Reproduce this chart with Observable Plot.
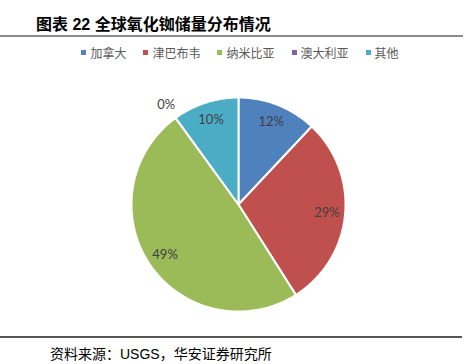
<!DOCTYPE html>
<html>
<head>
<meta charset="utf-8">
<script src="https://cdn.jsdelivr.net/npm/d3@7"></script>
<script src="https://cdn.jsdelivr.net/npm/@observablehq/plot@0.6"></script>
<style>
  body { margin: 0; background: #fff; }
  #wrap { position: relative; width: 467px; height: 364px; overflow: hidden; font-family: "Noto Sans CJK SC", sans-serif; }
  #chart { position: absolute; left: 0; top: 0; }
  .title { position: absolute; left: 36px; top: 11px; font-size: 16px; font-weight: bold; color: #000; white-space: nowrap; font-family: "Liberation Sans", "Noto Sans CJK SC", sans-serif; }
  .rule-top { position: absolute; left: 0; top: 35px; width: 463px; height: 2px; background: #8c8c8c; }
  .legend { position: absolute; left: 0; width: 480px; top: 44px; display: flex; justify-content: center; font-size: 12px; color: #595959; }
  .legend .item { display: flex; align-items: center; margin: 0 8.5px; white-space: nowrap; }
  .legend .sw { width: 5px; height: 5px; margin-right: 4px; }
  .rule-bot { position: absolute; left: 0; top: 336px; width: 462px; height: 2px; background: #555; }
  .source { position: absolute; left: 50px; top: 343px; font-size: 14px; color: #000; white-space: nowrap; font-family: "Liberation Sans", "Noto Sans CJK SC", sans-serif; }
</style>
</head>
<body>
<div id="wrap">
  <div id="chart"></div>
  <div class="title">图表 22 全球氧化铷储量分布情况</div>
  <div class="rule-top"></div>
  <div class="legend" id="legend"></div>
  <div class="rule-bot"></div>
  <div class="source">资料来源：USGS，华安证券研究所</div>
</div>
<script>
// Data
const categories = ["加拿大", "津巴布韦", "纳米比亚", "澳大利亚", "其他"];
const values = [12, 29, 49, 0, 10];
const labels = ["12%", "29%", "49%", "0%", "10%"];
const colors = ["#4F81BD", "#C0504D", "#9BBB59", "#8064A2", "#4BACC6"];

// Layout (pixels)
const W = 467, H = 364;
const cx = 238, cy = 204, R = 107;

// Angles from data (clockwise from top)
const total = d3.sum(values);
let acc = 0;
const slices = values.map((v, i) => {
  const a0 = acc / total * 2 * Math.PI;
  acc += v;
  const a1 = acc / total * 2 * Math.PI;
  return {cat: categories[i], value: v, label: labels[i], a0, a1, i};
});

// Polygon points in unit coords (y up)
const pts = [];
slices.forEach(s => {
  pts.push({cat: s.cat, x: 0, y: 0});
  const n = Math.max(2, Math.ceil((s.a1 - s.a0) / (Math.PI / 360)));
  for (let k = 0; k <= n; k++) {
    const a = s.a0 + (s.a1 - s.a0) * k / n;
    pts.push({cat: s.cat, x: Math.sin(a), y: Math.cos(a)});
  }
  pts.push({cat: s.cat, x: 0, y: 0});
});

const labelPts = slices.map(s => {
  const m = (s.a0 + s.a1) / 2;
  const rr = s.value < 1 ? 1.15 : 0.83;
  return {label: s.label, x: rr * Math.sin(m), y: rr * Math.cos(m)};
});

const plot = Plot.plot({
  width: W, height: H,
  margin: 0,
  x: {domain: [-cx / R, (W - cx) / R], range: [0, W], axis: null},
  y: {domain: [-(H - cy) / R, cy / R], range: [H, 0], axis: null},
  color: {domain: categories, range: colors},
  style: {background: "transparent"},
  marks: [
    Plot.line(pts, {x: "x", y: "y", z: "cat", fill: "cat", stroke: "#fff", strokeWidth: 2, strokeLinejoin: "miter", curve: "linear"}),
    Plot.text(labelPts, {x: "x", y: "y", text: "label", fill: "#404040", fontSize: 13, fontFamily: "Lato, 'Open Sans', sans-serif"})
  ]
});
document.getElementById("chart").appendChild(plot);

// Legend
const lg = document.getElementById("legend");
categories.forEach((c, i) => {
  const it = document.createElement("div");
  it.className = "item";
  const sw = document.createElement("span");
  sw.className = "sw";
  sw.style.background = colors[i];
  const t = document.createElement("span");
  t.textContent = c;
  it.appendChild(sw); it.appendChild(t);
  lg.appendChild(it);
});
</script>
</body>
</html>
